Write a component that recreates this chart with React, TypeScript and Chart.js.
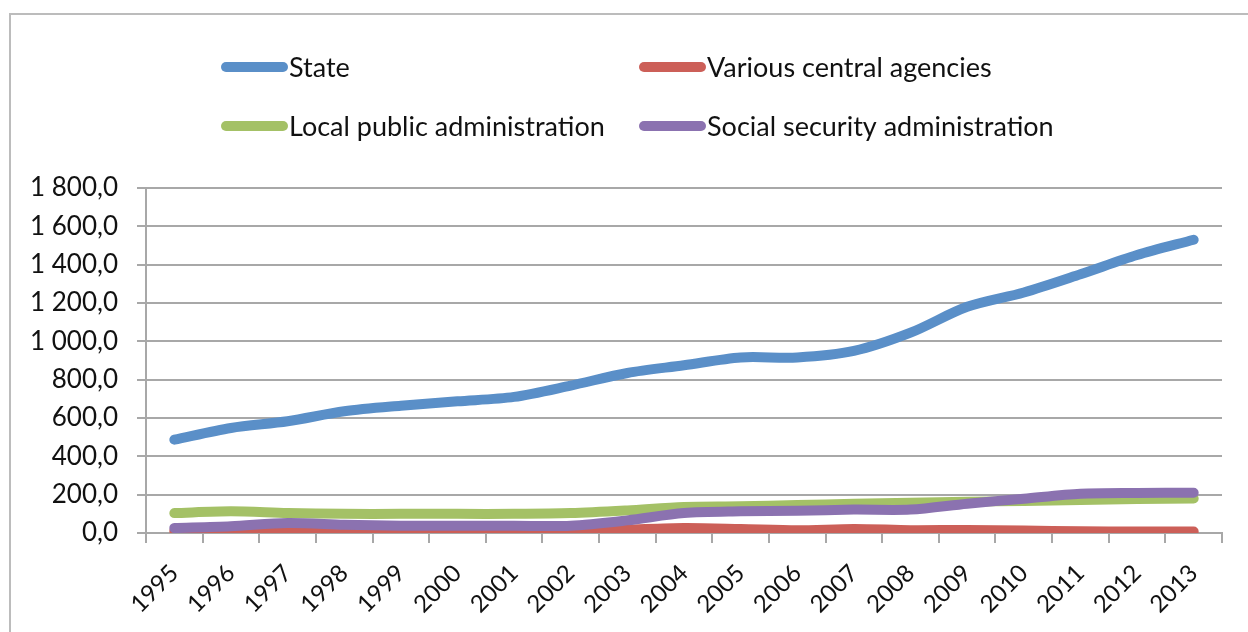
import React, { useEffect, useRef } from "react";
import { Chart, registerables } from "chart.js";

Chart.register(...registerables);

const years = ["1995", "1996", "1997", "1998", "1999", "2000", "2001", "2002", "2003", "2004", "2005", "2006", "2007", "2008", "2009", "2010", "2011", "2012", "2013"];

const seriesNames = ["State", "Various central agencies", "Local public administration", "Social security administration"];
const seriesColors = ["#5a8fc8", "#cc5f58", "#a4c166", "#8b72b0"];

const stateValues = [487, 548, 583, 635, 664, 687, 710, 769, 835, 875, 916, 916, 950, 1045, 1180, 1255, 1350, 1450, 1530];
const variousValues = [10, 12, 18, 12, 8, 7, 8, 8, 17, 26, 21, 14, 21, 15, 16, 13, 9, 8, 8];
const localValues = [104, 113, 104, 100, 100, 100, 100, 104, 118, 136, 139, 146, 152, 158, 163, 167, 172, 177, 180];
const socialValues = [26, 35, 52, 43, 38, 38, 38, 38, 66, 104, 113, 116, 122, 122, 153, 179, 205, 209, 210];

const yMin = 0;
const yMax = 1800;
const yStep = 200;

const FONT = "Lato, 'Open Sans', sans-serif";
const TEXT = "#111111";
const GRID = "#a8a8a8";

function formatTick(v: number): string {
  const s = Math.round(v).toString().replace(/\B(?=(\d{3})+(?!\d))/g, " ");
  return s + ",0";
}

const gridLegend = {
  id: "gridLegend",
  afterDraw(chart: any) {
    const ctx = chart.ctx;
    const cols = [221, 639];
    const rows = [67, 126];
    chart.data.datasets.forEach((ds: any, i: number) => {
      const x = cols[i % 2];
      const y = rows[Math.floor(i / 2)];
      ctx.save();
      ctx.strokeStyle = ds.borderColor;
      ctx.lineWidth = 10;
      ctx.lineCap = "round";
      ctx.beginPath();
      ctx.moveTo(x + 5, y);
      ctx.lineTo(x + 62, y);
      ctx.stroke();
      ctx.fillStyle = TEXT;
      ctx.font = `27px ${FONT}`;
      ctx.textBaseline = "middle";
      ctx.textAlign = "left";
      ctx.fillText(ds.label, x + 68, y + 1);
      ctx.restore();
    });
  },
};

export default function App() {
  const canvasRef = useRef<HTMLCanvasElement | null>(null);

  useEffect(() => {
    const canvas = canvasRef.current;
    if (!canvas) return;
    const seriesData = [stateValues, variousValues, localValues, socialValues];
    const drawOrder = [3, 2, 1, 0];
    const chart = new Chart(canvas, {
      type: "line",
      data: {
        labels: years,
        datasets: seriesNames.map((name, i) => ({
          label: name,
          data: seriesData[i],
          borderColor: seriesColors[i],
          backgroundColor: seriesColors[i],
          borderWidth: 10,
          borderCapStyle: "round",
          borderJoinStyle: "round",
          pointRadius: 0,
          pointHoverRadius: 0,
          tension: 0.3,
          fill: false,
          order: drawOrder[i],
        })),
      },
      options: {
        responsive: false,
        animation: false,
        layout: { padding: { top: 188, right: 26, left: 0, bottom: 0 } },
        plugins: {
          legend: { display: false },
          tooltip: { enabled: false },
          title: { display: false },
        },
        scales: {
          x: {
            type: "category",
            offset: true,
            grid: {
              display: true,
              drawOnChartArea: false,
              drawTicks: true,
              tickLength: 10,
              offset: true,
              color: GRID,
              lineWidth: 2,
            },
            border: { display: true, color: GRID, width: 2 },
            ticks: {
              autoSkip: false,
              maxRotation: 45,
              minRotation: 45,
              color: TEXT,
              font: { family: FONT, size: 24 },
              padding: 16,
            },
            afterFit(scale: any) {
              scale.height = 99;
            },
          },
          y: {
            min: yMin,
            max: yMax,
            ticks: {
              stepSize: yStep,
              color: TEXT,
              font: { family: FONT, size: 26 },
              padding: 19,
              callback: (v: any) => formatTick(Number(v)),
            },
            grid: {
              color: GRID,
              lineWidth: 2,
              tickLength: 9,
              drawTicks: true,
            },
            border: { display: true, color: GRID, width: 2 },
            afterFit(scale: any) {
              scale.width = 146;
            },
          },
        },
      },
      plugins: [gridLegend],
    });
    return () => chart.destroy();
  }, []);

  return (
    <div
      style={{
        position: "fixed",
        left: 0,
        top: 0,
        width: 1248,
        height: 632,
        overflow: "hidden",
        background: "#ffffff",
      }}
    >
      <div
        style={{
          position: "absolute",
          left: 9,
          top: 13,
          width: 1300,
          height: 700,
          border: "2px solid #bcbcbc",
        }}
      />
      <canvas
        ref={canvasRef}
        width={1248}
        height={632}
        style={{ position: "absolute", left: 0, top: 0, width: 1248, height: 632 }}
      />
    </div>
  );
}
